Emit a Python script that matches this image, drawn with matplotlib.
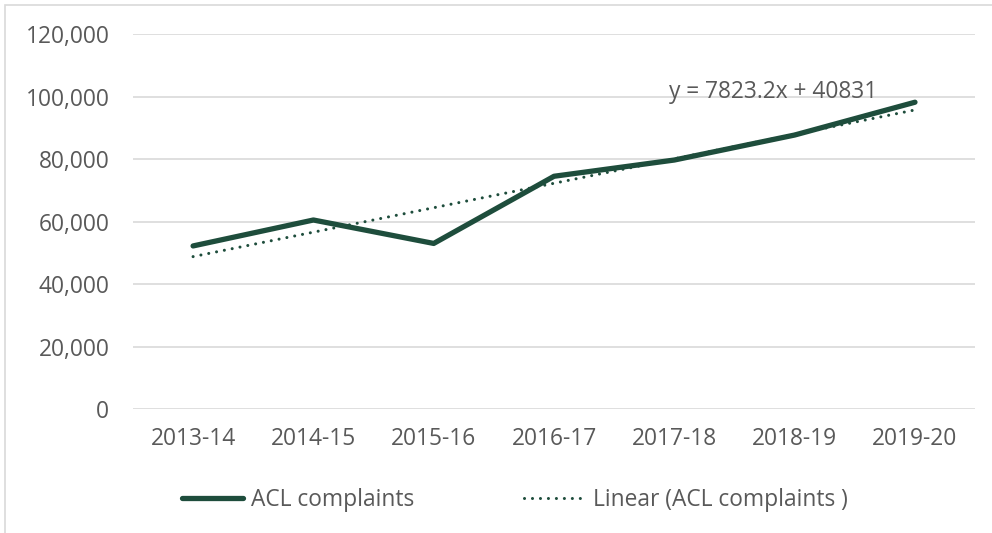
import matplotlib
matplotlib.use("Agg")
import matplotlib.pyplot as plt
from matplotlib.patches import Rectangle
import numpy as np

plt.rcParams['font.family'] = ['Open Sans', 'DejaVu Sans']

categories = ["2013-14", "2014-15", "2015-16", "2016-17", "2017-18", "2018-19", "2019-20"]
complaints = [52200, 60500, 53000, 74500, 79700, 87700, 98200]
yticks = [0, 20000, 40000, 60000, 80000, 100000, 120000]
equation = "y = 7823.2x + 40831"

line_color = "#1E4D3C"
text_color = "#595959"
fs = 16.4

fig = plt.figure(figsize=(9.92, 5.33), dpi=100)
ax = fig.add_axes([0.134, 0.2326, 0.849, 0.7034])

x = np.arange(len(categories))
ax.plot(x, complaints, color=line_color, lw=3.8, solid_capstyle='round',
        solid_joinstyle='round', label="ACL complaints", zorder=3)

# linear trend (fit on x = 1..n as in Excel)
xx = x + 1
slope, intercept = np.polyfit(xx, complaints, 1)
trend = slope * xx + intercept
ax.plot(x, trend, color=line_color, lw=2.2, linestyle=(0, (0.01, 2.6)),
        dash_capstyle='round', label="Linear (ACL complaints )", zorder=2)

ax.set_xlim(-0.5, len(categories) - 0.5)
ax.set_ylim(0, 120000)
ax.set_yticks(yticks)
ax.set_yticklabels([f"{v:,}" for v in yticks])
ax.set_xticks(x)
ax.set_xticklabels(categories)
ax.tick_params(axis='both', length=0, labelsize=fs, labelcolor=text_color)
ax.tick_params(axis='y', pad=17)
ax.tick_params(axis='x', pad=13)
ax.grid(axis='y', color="#D9D9D9", lw=1.2)
ax.set_axisbelow(True)
for s in ax.spines.values():
    s.set_visible(False)

ax.text(4.82, 101400, equation, ha='center', va='center', fontsize=fs, color=text_color)

leg = fig.legend(loc='center', bbox_to_anchor=(0.519, 0.062), ncol=2, frameon=False,
                 fontsize=fs, labelcolor=text_color, handlelength=2.7, handletextpad=0.35,
                 columnspacing=4.8)

fig.patches.append(Rectangle((5 / 992, -0.1), 1.2, 1 - 5 / 533 + 0.1, transform=fig.transFigure,
                             fill=False, edgecolor="#D9D9D9", lw=1.2))

fig.savefig("out.png", dpi=100)
